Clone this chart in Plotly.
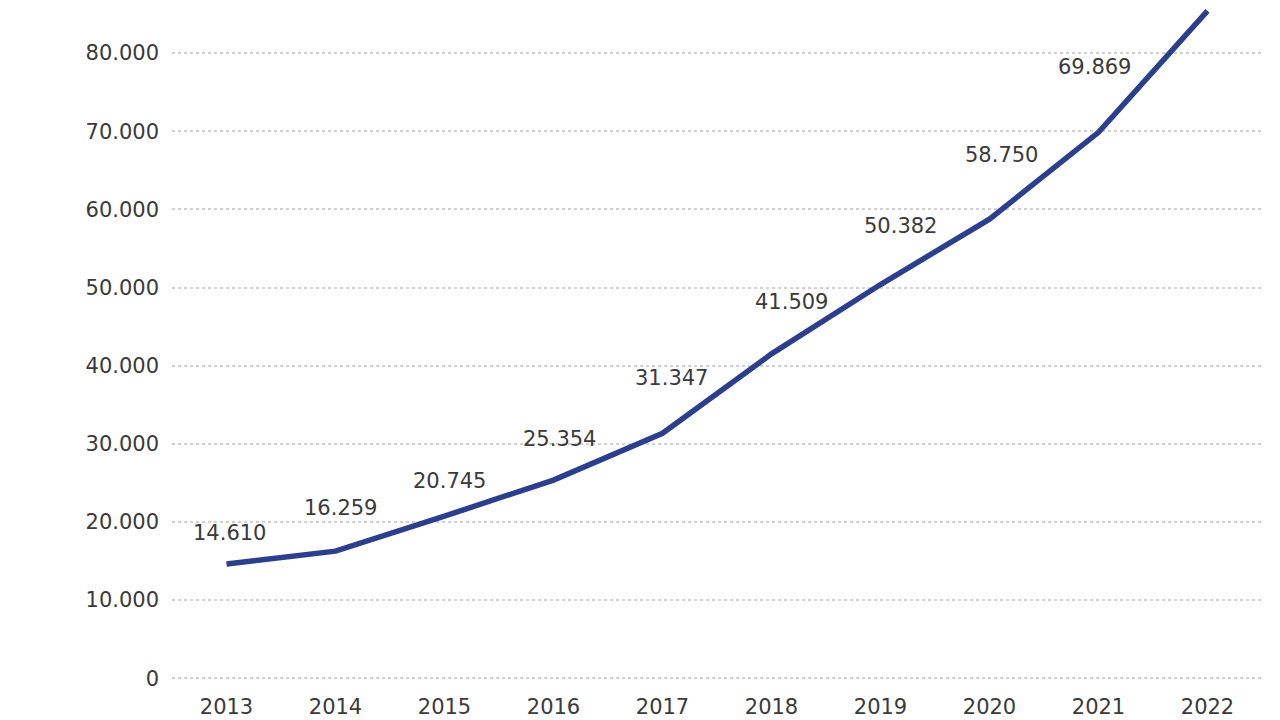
import plotly.graph_objects as go

years = ["2013", "2014", "2015", "2016", "2017", "2018", "2019", "2020", "2021", "2022"]
values = [14610, 16259, 20745, 25354, 31347, 41509, 50382, 58750, 69869, 85400]
y_ticks = [0, 10000, 20000, 30000, 40000, 50000, 60000, 70000, 80000]

# label offsets in pixels (style)
label_dx = [3, 5, 5, 6, 9, 20, 20, 12, -4, -53]
label_dy = [31, 43, 35, 41, 55, 52, 59, 64, 65, 19]

line_color = "#2c3f8e"
text_color = "#3a3a3a"
font_family = "DejaVu Sans"

fig = go.Figure()
fig.add_trace(go.Scatter(
    x=years, y=values, mode="lines",
    line=dict(color=line_color, width=5.5),
    hoverinfo="skip", showlegend=False,
))

for i, (v, dx, dy) in enumerate(zip(values, label_dx, label_dy)):
    fig.add_annotation(
        x=i, y=v, xref="x", yref="y",
        text=f"{v:,}".replace(",", "."),
        showarrow=False, xshift=dx, yshift=dy,
        font=dict(family=font_family, size=21, color=text_color),
    )

fig.update_layout(
    width=1280, height=720,
    margin=dict(l=172, r=18, t=0, b=34),
    paper_bgcolor="white", plot_bgcolor="white",
    separators=",.",
    font=dict(family=font_family, color=text_color),
)
fig.update_xaxes(
    type="category", range=[-0.5, 9.5],
    showgrid=False, showline=False, zeroline=False,
    ticks="", ticklabelstandoff=6,
    tickfont=dict(family=font_family, size=21, color=text_color),
)
fig.update_yaxes(
    range=[-1000, 86800], tickvals=y_ticks, tickformat=",d",
    showgrid=True, gridcolor="#d0d0d0", griddash="dot", gridwidth=2,
    showline=False, zeroline=False, ticks="", ticklabelstandoff=12,
    tickfont=dict(family=font_family, size=21, color=text_color),
)

fig.write_html(
    "out.html",
    config={"displayModeBar": False},
    post_script="document.body.style.margin='0px';",
)
